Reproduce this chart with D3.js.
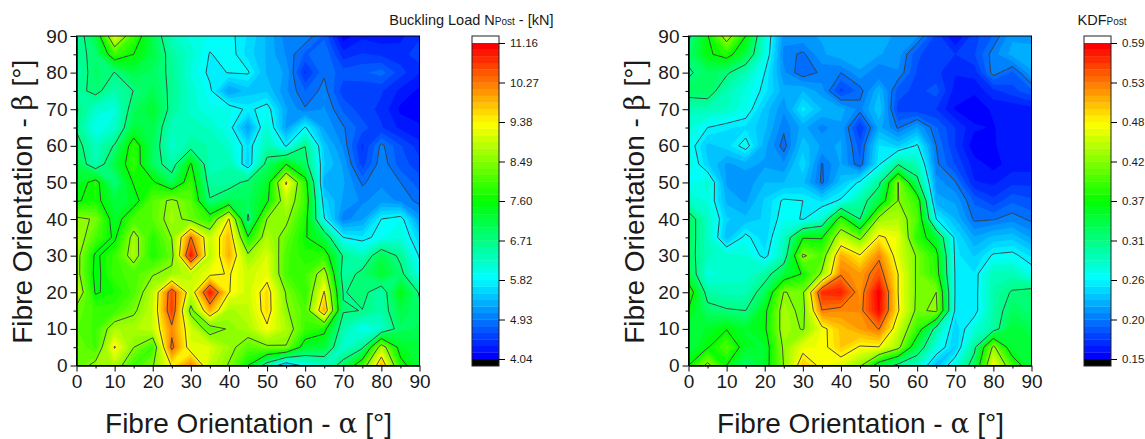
<!DOCTYPE html>
<html><head><meta charset="utf-8">
<script src="https://cdn.jsdelivr.net/npm/d3@7"></script>
<style>
html,body{margin:0;padding:0;background:#fff}
svg{display:block}
text{font-family:"Liberation Sans",Arial,sans-serif;fill:#1a1a1a}
.greek{font-family:"DejaVu Serif",serif}
</style></head><body>
<script>
const alphaAngles = d3.range(0, 95, 5);
const betaAngles = d3.range(90, -5, -5);
const axisTicks = [0,10,20,30,40,50,60,70,80,90];
const minorTicks = [5,15,25,35,45,55,65,75,85];
const loadTickLabels = ["4.04","4.93","5.82","6.71","7.60","8.49","9.38","10.27","11.16"];
const kdfTickLabels = ["0.15","0.20","0.26","0.31","0.37","0.42","0.48","0.53","0.59"];

// Buckling load [kN]; rows run from beta = 90 down to beta = 0, columns alpha = 0..90
const bucklingRows = [
[6.45,7.1,9.2,8.0,7.05,6.3,6.05,5.95,5.9,5.65,5.35,5.0,5.05,4.75,4.1,4.3,4.25,4.3,4.45],
[6.55,6.85,8.0,7.6,7.15,6.5,6.2,5.8,5.95,5.6,5.35,5.06,4.75,4.93,4.4,4.5,4.45,4.4,4.6],
[6.43,6.9,6.7,7.15,6.95,6.6,6.1,5.75,5.83,5.85,5.35,5.2,4.45,4.9,4.7,4.75,4.85,4.55,4.35],
[6.55,6.85,6.4,6.72,7.05,6.6,6.2,5.88,5.2,5.45,5.5,5.1,4.78,5.0,4.55,4.5,4.5,4.3,4.15],
[6.75,6.2,6.1,6.95,7.3,6.55,6.2,6.0,6.0,5.75,5.95,5.25,4.95,5.1,4.75,4.55,4.45,4.15,4.15],
[6.65,5.95,6.2,7.2,7.1,6.3,6.35,6.25,5.95,5.2,6.15,5.2,5.85,5.2,4.95,4.7,4.5,4.3,4.2],
[6.9,6.3,6.75,7.9,7.0,6.2,6.5,6.4,6.2,5.65,6.4,5.78,6.7,5.45,5.05,4.45,4.98,4.65,4.4],
[7.1,6.35,7.15,7.95,6.95,6.45,7.65,6.3,6.4,5.55,6.9,7.6,6.9,5.55,5.2,4.55,5.05,4.7,4.55],
[7.3,7.8,6.75,7.65,7.7,7.0,7.95,6.5,6.5,6.85,7.3,9.45,7.85,5.3,5.25,4.9,5.05,4.93,4.7],
[7.55,7.75,7.2,7.35,8.2,8.6,8.2,6.75,7.1,7.0,7.5,8.9,8.0,5.6,5.2,5.05,5.15,5.05,4.87],
[8.6,8.44,7.3,8.1,8.2,8.7,8.3,7.9,9.42,6.6,8.5,8.6,7.8,5.85,5.0,5.2,5.82,5.95,5.15],
[8.8,8.1,7.5,8.7,7.85,8.5,10.3,8.95,9.8,7.65,8.8,8.3,7.65,7.1,5.82,5.7,5.95,6.1,5.55],
[8.7,7.5,7.95,8.75,7.75,8.3,11.0,8.85,9.9,8.6,9.1,8.1,7.8,7.9,6.65,6.3,7.1,6.6,5.78],
[8.7,7.45,8.0,8.1,8.45,8.65,8.9,9.25,9.42,9.0,9.2,8.05,8.0,8.8,6.45,6.85,7.3,6.85,6.0],
[9.0,7.55,7.75,8.1,8.9,10.6,9.0,10.95,9.4,9.0,9.6,8.45,7.9,9.42,6.68,6.85,6.4,7.5,6.65],
[8.3,8.0,8.0,8.4,8.95,10.7,8.3,9.9,8.72,8.9,9.6,8.55,8.1,9.9,6.75,6.7,6.45,7.15,6.85],
[8.2,8.0,8.8,8.75,8.95,10.15,9.05,8.2,8.55,8.75,9.3,8.8,8.0,7.75,6.4,5.95,6.2,6.95,7.05],
[8.4,8.0,9.42,8.5,8.0,10.4,9.1,9.1,8.65,8.2,8.4,8.45,7.3,7.2,6.2,6.6,8.85,7.35,7.2],
[8.2,8.65,8.8,8.0,8.45,9.42,10.2,8.9,8.45,7.6,6.4,5.35,6.0,6.25,6.95,8.1,9.85,7.8,7.2]
];

// KDF values read as steps of the colour scale (0 = 0.15 ... 8 = 0.59); same row and column order
const kdfScaleRows = [
[2.9,3.95,5.35,4.0,2.35,1.25,1.3,1.35,1.45,1.5,1.4,1.3,1.2,.6,.15,.6,.85,1.3,1.2],
[3.2,3.9,4.25,3.5,2.3,1.1,.95,1.3,1.45,1.5,1.35,1.25,.7,.55,.5,.65,1.1,1.4,1.5],
[2.9,3.3,3.08,2.6,2.0,1.2,.85,1.05,1.0,1.3,1.0,1.15,.65,.55,.35,.4,1.1,.8,1.3],
[3.25,3.3,2.6,2.3,1.9,1.4,1.5,1.25,.6,.9,1.5,.75,.6,.75,.25,.2,.45,.6,.8],
[2.55,2.6,2.5,2.2,1.6,1.2,1.9,1.5,1.4,1.1,1.65,.6,.55,.5,.15,.05,.2,.2,.25],
[2.4,2.0,1.85,1.8,1.55,1.05,1.4,1.1,1.3,.5,1.4,.97,1.35,.85,.5,.2,.15,.3,.25],
[2.2,1.6,1.75,2.15,1.4,.9,1.6,1.3,1.35,.75,1.85,1.65,2.05,1.0,.5,.05,.15,.25,.2],
[2.35,1.7,1.3,1.4,1.3,1.2,1.8,.98,1.35,.85,1.95,2.95,2.6,1.05,.65,.25,.1,.25,.25],
[2.1,2.4,1.3,1.2,1.5,1.5,1.55,.95,1.6,2.07,2.85,5.02,3.2,1.25,1.02,.35,.3,.45,.45],
[2.5,2.3,1.45,1.3,1.7,2.05,2.0,1.8,2.05,2.7,3.5,5.02,4.4,1.4,1.3,.8,.55,.8,.7],
[3.3,2.5,1.7,1.55,1.7,2.15,1.97,2.4,4.35,3.0,5.2,5.35,4.6,2.0,1.5,.95,.98,1.1,.95],
[3.3,2.5,1.55,2.1,1.7,2.5,3.95,3.95,5.5,4.85,6.1,5.8,4.3,3.65,1.85,1.35,1.55,1.6,1.3],
[3.25,2.55,2.4,2.35,1.88,2.6,5.1,4.6,6.6,6.05,6.9,5.7,4.93,4.2,1.9,1.65,2.05,2.1,1.8],
[3.5,2.25,2.4,2.4,2.75,3.5,4.05,5.1,6.95,6.7,7.3,6.0,4.9,4.3,1.95,1.85,2.6,2.6,2.2],
[4.45,2.75,2.6,2.6,3.3,5.02,4.9,7.6,7.7,6.75,8.0,6.0,4.9,5.0,1.95,1.85,2.7,3.05,3.2],
[3.95,3.2,3.05,3.0,3.85,5.3,4.8,6.98,6.85,6.85,7.9,6.05,4.85,5.15,1.9,1.85,2.7,3.3,3.1],
[3.5,3.7,3.97,3.65,3.9,5.3,4.95,5.85,6.4,6.7,7.02,5.6,4.4,2.75,1.7,2.3,2.75,3.6,3.4],
[3.45,3.95,4.6,3.7,3.65,5.1,5.8,5.85,6.35,5.95,5.98,5.2,3.4,2.3,1.65,2.85,5.15,3.5,3.6],
[4.0,5.2,4.0,3.2,3.7,5.02,6.4,5.85,5.7,5.1,3.55,2.8,2.5,1.55,2.3,3.3,5.9,4.5,3.45]
];

const W = 1145, H = 439;
const svg = d3.select("body").append("svg").attr("width", W).attr("height", H);
const BANDS = 48, BANDS_PER_TICK = 6;
const rainbow = t => {
  const stops = ["#0000ff","#00ffff","#00ff00","#ffff00","#ff0000"];
  const s = Math.min(3.9999, t * 4), i = Math.floor(s);
  return d3.interpolateRgb(stops[i], stops[i + 1])(s - i);
};

function panel(cfg) {
  const {id, left, barLeft, grid, vMin, vMax, labels} = cfg;
  const top = 36, bottom = 365.5, width = 343;
  const x = d3.scaleLinear().domain([0, 90]).range([left, left + width]);
  const y = d3.scaleLinear().domain([0, 90]).range([bottom, top]);
  const flat = [];
  for (let r = grid.length - 1; r >= 0; r--) flat.push(...grid[r]);
  const step = (vMax - vMin) / BANDS;
  const levels = d3.range(BANDS).map(k => vMin + k * step);
  const lineLevels = d3.range(1, 8).map(k => vMin + k * BANDS_PER_TICK * step);
  const path = d3.geoPath(d3.geoTransform({
    point(cx, cy) { this.stream.point(x((cx - 0.5) * 5), y((cy - 0.5) * 5)); }
  }));
  const contours = d3.contours().size([alphaAngles.length, betaAngles.length]).smooth(true);
  svg.append("clipPath").attr("id", id).append("rect")
    .attr("x", left).attr("y", top).attr("width", width).attr("height", bottom - top);
  const g = svg.append("g").attr("clip-path", `url(#${id})`);
  g.selectAll("path.band").data(contours.thresholds(levels)(flat)).join("path")
    .attr("class", "band").attr("d", path)
    .attr("fill", (d, i) => rainbow(i / (BANDS - 1))).attr("stroke", "none");
  g.selectAll("path.iso").data(contours.thresholds(lineLevels)(flat)).join("path")
    .attr("class", "iso").attr("d", path)
    .attr("fill", "none").attr("stroke", "#3c3c3c").attr("stroke-width", 0.9);

  // frame
  svg.append("rect").attr("x", left).attr("y", top).attr("width", width).attr("height", bottom - top)
    .attr("fill", "none").attr("stroke", "#000").attr("stroke-width", 1);

  const styleAxis = a => {
    a.selectAll("path").attr("stroke", "#000");
    a.selectAll("line").attr("stroke", "#000");
    a.selectAll("text").style("font-size", "19px").attr("fill", "#1a1a1a");
  };
  svg.append("g").attr("transform", `translate(0,${bottom})`)
    .call(d3.axisBottom(x).tickValues(axisTicks).tickSize(6).tickSizeOuter(0).tickPadding(3).tickFormat(d3.format("d")))
    .call(styleAxis);
  svg.append("g").attr("transform", `translate(0,${bottom})`)
    .call(d3.axisBottom(x).tickValues(minorTicks).tickSize(3).tickSizeOuter(0).tickFormat(""))
    .call(styleAxis);
  svg.append("g").attr("transform", `translate(${left},0)`)
    .call(d3.axisLeft(y).tickValues(axisTicks).tickSize(6).tickSizeOuter(0).tickPadding(3).tickFormat(d3.format("d")))
    .call(styleAxis);
  svg.append("g").attr("transform", `translate(${left},0)`)
    .call(d3.axisLeft(y).tickValues(minorTicks).tickSize(3).tickSizeOuter(0).tickFormat(""))
    .call(styleAxis);

  // axis titles
  const xt = svg.append("text").attr("x", left + width / 2 + 0.5).attr("y", 433)
    .attr("text-anchor", "middle").style("font-size", "28px");
  xt.append("tspan").text("Fibre Orientation - ");
  xt.append("tspan").attr("class", "greek").text("α");
  xt.append("tspan").text(" [°]");
  const yt = svg.append("text").attr("transform", `translate(${left - 45},${(top + bottom) / 2 + 1}) rotate(-90)`)
    .attr("text-anchor", "middle").style("font-size", "28px");
  yt.append("tspan").text("Fibre Orientation - ");
  yt.append("tspan").attr("class", "greek").text("β");
  yt.append("tspan").text(" [°]");

  // colour bar
  const barW = 27, barTop = 43, barBottom = 359;
  const bar = d3.scaleLinear().domain([0, BANDS]).range([barBottom, barTop]);
  svg.append("rect").attr("x", barLeft).attr("y", barBottom).attr("width", barW).attr("height", 7).attr("fill", "#000");
  svg.selectAll(null).data(d3.range(BANDS)).join("rect")
    .attr("x", barLeft).attr("width", barW)
    .attr("y", k => bar(k + 1)).attr("height", k => bar(k) - bar(k + 1) + 0.3)
    .attr("fill", k => rainbow(k / (BANDS - 1)));
  svg.append("rect").attr("x", barLeft).attr("y", 36).attr("width", barW).attr("height", 7).attr("fill", "#fff");
  svg.append("rect").attr("x", barLeft).attr("y", 36).attr("width", barW).attr("height", 330)
    .attr("fill", "none").attr("stroke", "#222").attr("stroke-width", 1);
  const tickScale = d3.scalePoint().domain(labels).range([barBottom, barTop]);
  const barAxis = svg.append("g").attr("transform", `translate(${barLeft + barW},0)`)
    .call(d3.axisRight(tickScale).tickSize(6).tickSizeOuter(0).tickPadding(5));
  barAxis.select("path").remove();
  barAxis.selectAll("line").attr("stroke", "#000");
  barAxis.selectAll("text").style("font-size", "11.5px").attr("fill", "#1a1a1a");
  return {x, y};
}

panel({id: "clipLoad", left: 76.5, barLeft: 472, grid: bucklingRows, vMin: 4.04, vMax: 11.16, labels: loadTickLabels});
panel({id: "clipKdf", left: 688.5, barLeft: 1084, grid: kdfScaleRows.map(r => r.map(v => 0.15 + 0.055 * v)),
  vMin: 0.15, vMax: 0.59, labels: kdfTickLabels});

function barTitle(xEnd, main, tail) {
  const t = svg.append("text").attr("x", xEnd).attr("y", 25).attr("text-anchor", "end").style("font-size", "14.5px");
  t.append("tspan").text(main);
  t.append("tspan").style("font-size", "10px").text("Post");
  if (tail) t.append("tspan").text(tail);
}
barTitle(553.5, "Buckling Load N", " - [kN]");
barTitle(1126.5, "KDF", "");
</script>
</body></html>
